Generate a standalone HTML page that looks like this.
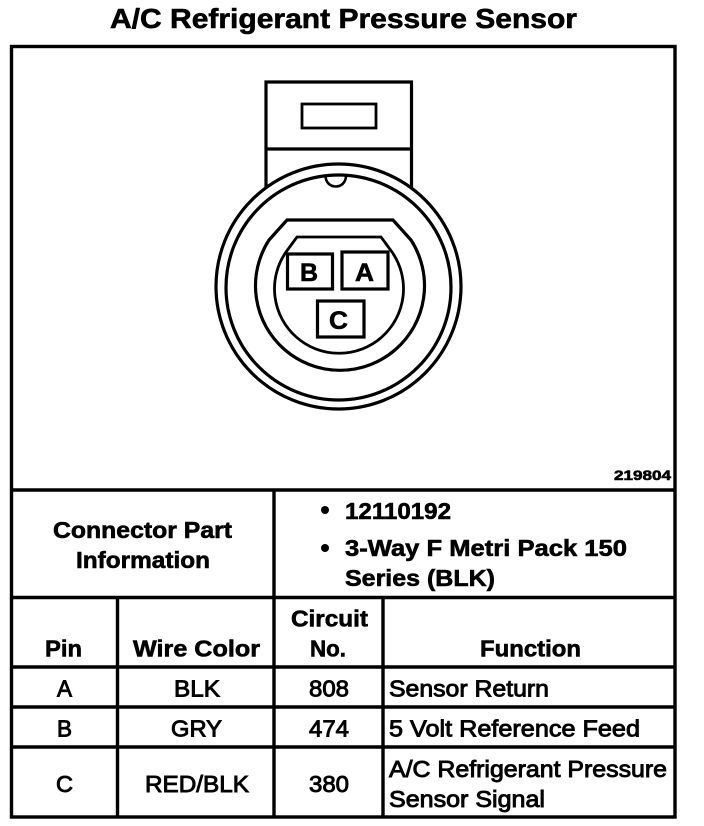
<!DOCTYPE html>
<html><head><meta charset="utf-8"><style>
html,body{margin:0;padding:0;background:#fff}
svg{display:block}
text{font-family:"Liberation Sans",sans-serif;fill:#000;font-weight:bold;stroke:#000;stroke-width:.6px}
.r{font-weight:normal;stroke-width:.9px}
</style></head><body>
<svg width="704" height="826" viewBox="0 0 704 826" xmlns="http://www.w3.org/2000/svg">
<rect width="704" height="826" fill="#fff"/>
<text x="110" y="28" font-size="28" textLength="467" lengthAdjust="spacingAndGlyphs">A/C Refrigerant Pressure Sensor</text>
<g fill="none" stroke="#000">
<rect x="11.5" y="46.5" width="663.5" height="770.5" stroke-width="3.4"/>
<path d="M11 490H675M11 597.5H675M11 667H675M11 707H675M11 747H675" stroke-width="3.6"/>
<path d="M274 490V817M117.500 597.500V817M383 597.500V817" stroke-width="3.4"/>
<path d="M266 187V82H411.500V187M266 149H411.500" stroke-width="3.2"/>
<rect x="302" y="104" width="74" height="24" stroke-width="2.800"/>
<circle cx="338.500" cy="286.500" r="122.500" fill="#fff" stroke-width="3.2"/>
<circle cx="338.500" cy="287.500" r="112.500" stroke-width="3.2"/>
<path d="M325.500 176C326 190 345.500 190 346 176" stroke-width="2.600"/>
<path d="M287 220H393L411 240A84.500 84.500 0 1 1 269 240Z" stroke-width="3.2"/>
<path d="M297 237H381L392 252A64.500 64.500 0 1 1 286 252Z" stroke-width="2.800"/>
<rect x="287.500" y="254" width="45" height="35" fill="#fff" stroke-width="3.2"/>
<rect x="342" y="252" width="46" height="37" fill="#fff" stroke-width="3.2"/>
<rect x="317.500" y="301" width="46.500" height="36" fill="#fff" stroke-width="3.2"/>
</g>
<text x="300" y="281" font-size="25" textLength="18" lengthAdjust="spacingAndGlyphs">B</text>
<text x="355" y="281" font-size="25" textLength="19" lengthAdjust="spacingAndGlyphs">A</text>
<text x="329" y="329" font-size="25" textLength="19" lengthAdjust="spacingAndGlyphs">C</text>
<text x="614" y="480" font-size="14" textLength="57" lengthAdjust="spacingAndGlyphs">219804</text>
<text x="53" y="538" font-size="23" textLength="179" lengthAdjust="spacingAndGlyphs">Connector Part</text>
<text x="76" y="568" font-size="23" textLength="134" lengthAdjust="spacingAndGlyphs">Information</text>
<circle cx="325" cy="510" r="4"/><circle cx="325" cy="548" r="4"/>
<text x="345" y="519" font-size="23" textLength="106" lengthAdjust="spacingAndGlyphs">12110192</text>
<text x="345" y="556" font-size="23" textLength="282" lengthAdjust="spacingAndGlyphs">3-Way F Metri Pack 150</text>
<text x="345" y="586" font-size="23" textLength="150" lengthAdjust="spacingAndGlyphs">Series (BLK)</text>
<text x="45" y="656.500" font-size="23" textLength="37" lengthAdjust="spacingAndGlyphs">Pin</text>
<text x="133" y="656.500" font-size="23" textLength="127" lengthAdjust="spacingAndGlyphs">Wire Color</text>
<text x="291" y="626.500" font-size="23" textLength="77" lengthAdjust="spacingAndGlyphs">Circuit</text>
<text x="310" y="656.500" font-size="23" textLength="36" lengthAdjust="spacingAndGlyphs">No.</text>
<text x="480" y="656.500" font-size="23" textLength="101" lengthAdjust="spacingAndGlyphs">Function</text>
<g font-size="23">
<text class="r" x="57" y="696.500" textLength="15" lengthAdjust="spacingAndGlyphs">A</text>
<text class="r" x="174" y="696.500" textLength="46" lengthAdjust="spacingAndGlyphs">BLK</text>
<text class="r" x="309" y="696.500" textLength="40" lengthAdjust="spacingAndGlyphs">808</text>
<text class="r" x="389" y="696.500" textLength="160" lengthAdjust="spacingAndGlyphs">Sensor Return</text>
<text class="r" x="57" y="736.500" textLength="15" lengthAdjust="spacingAndGlyphs">B</text>
<text class="r" x="171" y="736.500" textLength="51" lengthAdjust="spacingAndGlyphs">GRY</text>
<text class="r" x="309" y="736.500" textLength="40" lengthAdjust="spacingAndGlyphs">474</text>
<text class="r" x="389" y="736.500" textLength="251" lengthAdjust="spacingAndGlyphs">5 Volt Reference Feed</text>
<text class="r" x="56" y="792" textLength="17" lengthAdjust="spacingAndGlyphs">C</text>
<text class="r" x="145" y="792" textLength="104" lengthAdjust="spacingAndGlyphs">RED/BLK</text>
<text class="r" x="309" y="792" textLength="40" lengthAdjust="spacingAndGlyphs">380</text>
<text class="r" x="389" y="777" textLength="278" lengthAdjust="spacingAndGlyphs">A/C Refrigerant Pressure</text>
<text class="r" x="389" y="807" textLength="156" lengthAdjust="spacingAndGlyphs">Sensor Signal</text>
</g>
</svg>
</body></html>
